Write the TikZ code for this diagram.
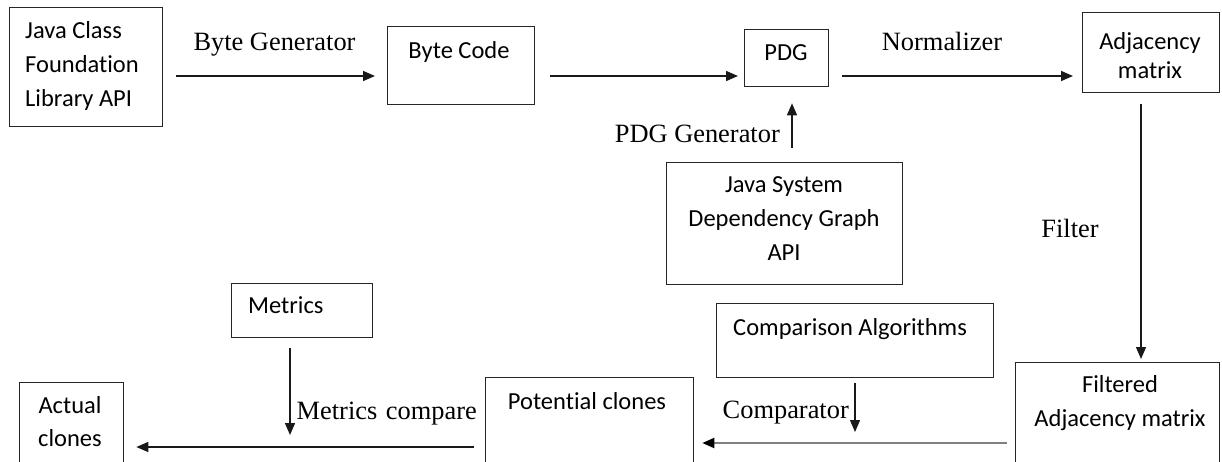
\documentclass[tikz,border=0pt]{standalone}
\usepackage{fontspec}
\setmainfont{Liberation Serif}
\newfontfamily\calfont[RawFeature=-liga]{Carlito}
\usetikzlibrary{arrows.meta}
\begin{document}
\begin{tikzpicture}[x=1pt,y=-1pt,
  box/.style={draw=black!85, line width=1.3pt, inner sep=0pt, anchor=north west},
  sans/.style={font=\calfont\fontsize{24.5}{30}\selectfont, inner sep=0pt, anchor=base},
  serif/.style={font=\fontsize{26.4}{32}\selectfont, inner sep=0pt, anchor=base},
  arr/.style={line width=1.4pt, draw=black!90, -{Triangle[length=12pt,width=10pt]}},
  grayarr/.style={line width=2pt, draw=black!50, -{Triangle[length=12pt,width=10pt,color=black]}}
]
\useasboundingbox (0,0) rectangle (1222,461);
\clip (0,0) rectangle (1222,461);

% boxes
\node[box, minimum width=153pt, minimum height=119pt] (jcfl) at (9,7) {};
\node[box, minimum width=147pt, minimum height=78pt] (bc) at (387,26) {};
\node[box, minimum width=84pt, minimum height=57pt] (pdg) at (744,29) {};
\node[box, minimum width=137pt, minimum height=80pt] (adj) at (1082,12) {};
\node[box, minimum width=236pt, minimum height=122pt] (jsdg) at (666,162) {};
\node[box, minimum width=277pt, minimum height=74pt] (cmp) at (716,303) {};
\node[box, minimum width=204pt, minimum height=120pt] (fam) at (1015,362) {};
\node[box, minimum width=208pt, minimum height=100pt] (pot) at (485,377) {};
\node[box, minimum width=141pt, minimum height=54pt] (met) at (231,283) {};
\node[box, minimum width=104pt, minimum height=100pt] (act) at (19,382) {};

% box texts
\node[sans, anchor=base west] (t1a) at (25,38) {Java Class};
\node[sans, anchor=base west] (t1b) at (25,72) {Foundation};
\node[sans, anchor=base west] (t1c) at (25,106) {Library API};
\node[sans] (t2) at (459,58) {Byte Code};
\node[sans] (t3) at (786,60) {PDG};
\node[sans] (t4a) at (1150,49) {Adjacency};
\node[sans] (t4b) at (1150,78) {matrix};
\node[sans] (t5a) at (784,192) {Java System};
\node[sans] (t5b) at (784,226) {Dependency Graph};
\node[sans] (t5c) at (784,260) {API};
\node[sans, anchor=base west] (t6) at (733,335) {Comparison Algorithms};
\node[sans] (t7a) at (1120,392) {Filtered};
\node[sans] (t7b) at (1120,426) {Adjacency matrix};
\node[sans] (t8) at (587,409) {Potential clones};
\node[sans, anchor=base west] (t9) at (248,313) {Metrics};
\node[sans] (t10a) at (70,413) {Actual};
\node[sans] (t10b) at (70,446) {clones};

% connector labels
\node[serif] (l1) at (274.5,50) {Byte Generator};
\node[serif] (l2) at (942,50) {Normalizer};
\node[serif, anchor=base east] (l3) at (780,142) {PDG Generator};
\node[serif] (l4) at (1070,237) {Filter};
\node[serif, anchor=base east] (l5) at (849,418) {Comparator};
\node[serif, anchor=base east] (l6) at (477,419) {Metrics\hspace{2pt} compare};

% helper coordinates
\coordinate (r1) at (0,76);
\coordinate (c1) at (1141,0);
\coordinate (c2) at (792,0);
\coordinate (cmpend) at (855,432);
\coordinate (metend) at (290,435);
\coordinate (r2) at (0,443);
\coordinate (r3) at (0,447);

% connectors
\draw[arr, shorten <=13pt, shorten >=12pt] (jcfl.east |- r1) -- (bc.west |- r1);
\draw[arr, shorten <=15pt, shorten >=6pt] (bc.east |- r1) -- (pdg.west |- r1);
\draw[arr, shorten <=13pt, shorten >=9pt] (pdg.east |- r1) -- (adj.west |- r1);
\draw[arr, shorten <=11pt, shorten >=3pt] (adj.south -| c1) -- (fam.north -| c1);
\draw[arr, shorten <=14pt, shorten >=16pt] (jsdg.north -| c2) -- (pdg.south -| c2);
\draw[arr, shorten <=5pt] (cmp.south -| cmpend) -- (cmpend);
\draw[grayarr, shorten <=8pt, shorten >=8pt] (fam.west |- r2) -- (pot.east |- r2);
\draw[arr, shorten <=10pt] (met.south -| metend) -- (metend);
\draw[arr, shorten <=11pt, shorten >=12pt] (pot.west |- r3) -- (act.east |- r3);
\end{tikzpicture}
\end{document}
